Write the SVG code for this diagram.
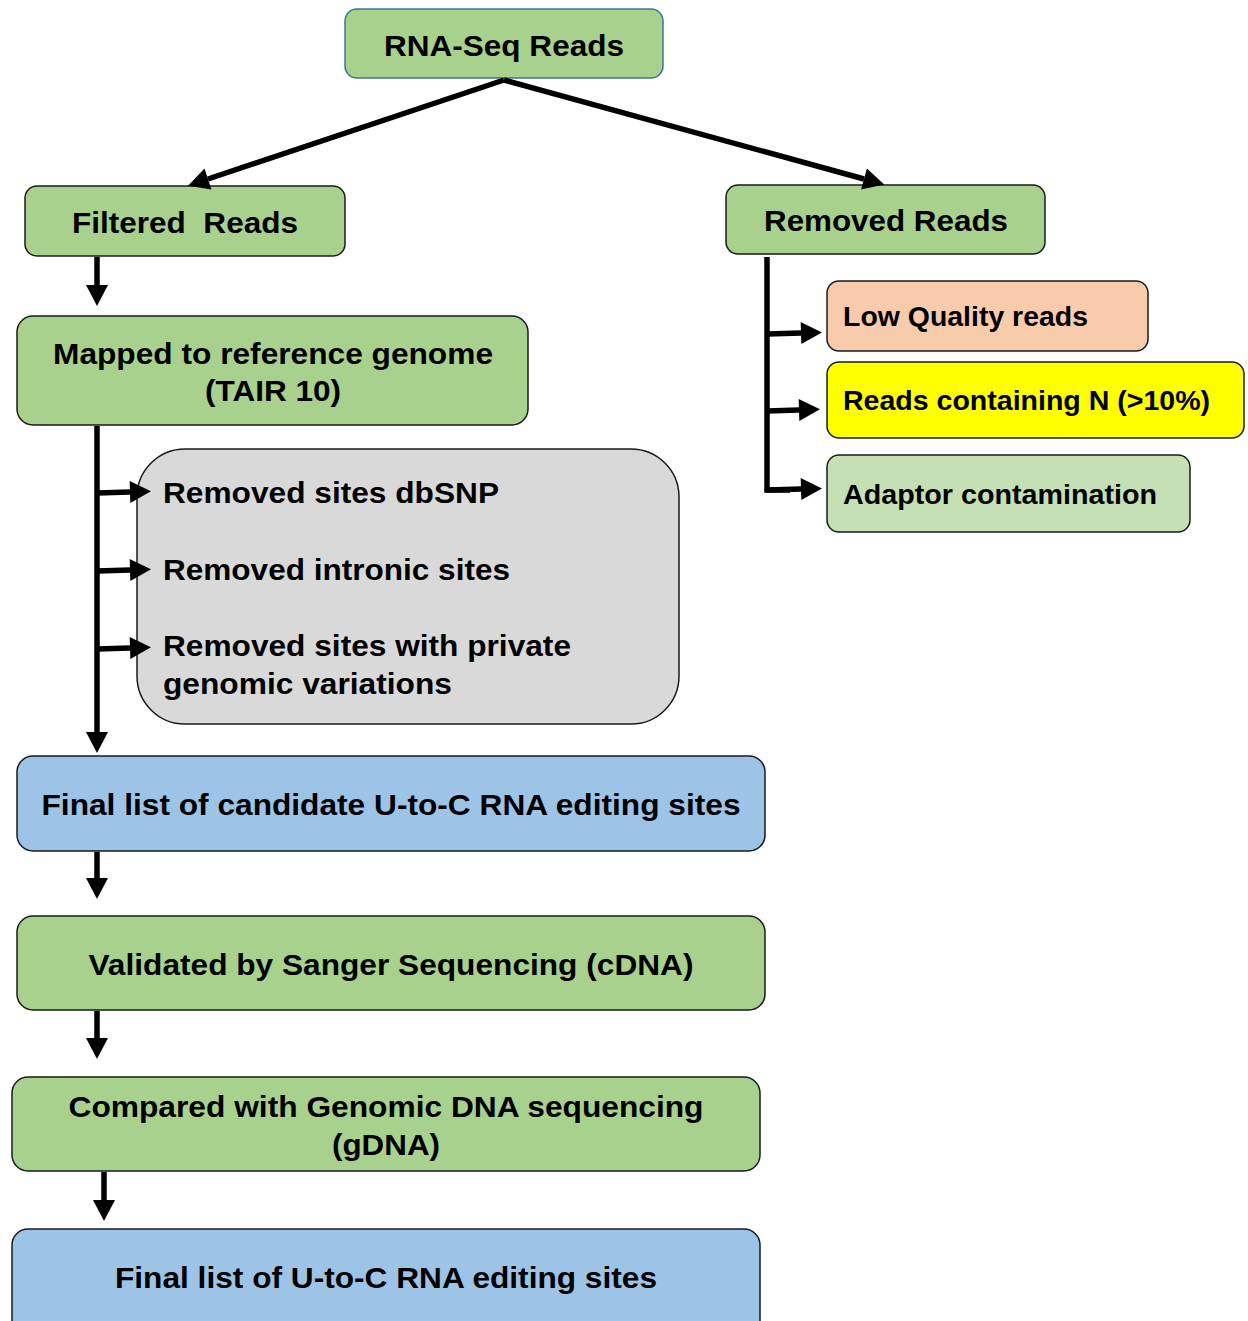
<svg xmlns="http://www.w3.org/2000/svg" width="1248" height="1321" viewBox="0 0 1248 1321">
<defs>
<style>
.box{stroke:#1a1a1a;stroke-width:1.5}
.g{fill:#A9D18E}
.b{fill:#9DC3E6}
.t{font-family:"Liberation Sans",Arial,sans-serif;font-weight:bold;font-size:30px;fill:#000}
.s{font-size:28px}
.c{text-anchor:middle}
.ln{stroke:#000;stroke-width:5.5;fill:none}
</style>
<marker id="ah" markerUnits="userSpaceOnUse" markerWidth="22" markerHeight="22" refX="0" refY="11" orient="auto" overflow="visible">
<path d="M0,0 L21,11 L0,22 Z" fill="#000"/>
</marker>
</defs>
<rect width="1248" height="1321" fill="#fff"/>
<g id="rnaseq">
<rect x="345" y="9" width="318" height="69" rx="12" fill="#A9D18E" stroke="#41719C" stroke-width="1.5"/>
<text class="t c" x="504" y="56" textLength="240" lengthAdjust="spacingAndGlyphs">RNA-Seq Reads</text>
</g>
<g id="filtered">
<rect class="box g" x="25" y="186" width="320" height="70" rx="12"/>
<text class="t c" x="185" y="233" textLength="226" lengthAdjust="spacingAndGlyphs" xml:space="preserve">Filtered  Reads</text>
</g>
<g id="removed">
<rect class="box g" x="726" y="185" width="319" height="69" rx="12"/>
<text class="t c" x="886" y="231" textLength="244" lengthAdjust="spacingAndGlyphs">Removed Reads</text>
</g>
<g id="mapped">
<rect class="box g" x="17" y="316" width="511" height="109" rx="16"/>
<text class="t c" x="273" y="364" textLength="440" lengthAdjust="spacingAndGlyphs">Mapped to reference genome</text>
<text class="t c" x="273" y="401" textLength="136" lengthAdjust="spacingAndGlyphs">(TAIR 10)</text>
</g>
<g id="filters">
<rect x="137" y="449" width="542" height="275" rx="48" fill="#D9D9D9" stroke="#1a1a1a" stroke-width="1.5"/>
<text class="t" x="163" y="503" textLength="336" lengthAdjust="spacingAndGlyphs">Removed sites dbSNP</text>
<text class="t" x="163" y="580" textLength="347" lengthAdjust="spacingAndGlyphs">Removed intronic sites</text>
<text class="t" x="163" y="656" textLength="408" lengthAdjust="spacingAndGlyphs">Removed sites with private</text>
<text class="t" x="163" y="694" textLength="289" lengthAdjust="spacingAndGlyphs">genomic variations</text>
</g>
<g id="lowquality">
<rect class="box" x="827" y="281" width="321" height="70" rx="12" fill="#F8CBAD"/>
<text class="t s" x="843" y="326" textLength="245" lengthAdjust="spacingAndGlyphs">Low Quality reads</text>
</g>
<g id="containingN">
<rect class="box" x="827" y="362" width="417" height="76" rx="12" fill="#FFFF00"/>
<text class="t s" x="843" y="410" textLength="367" lengthAdjust="spacingAndGlyphs">Reads containing N (&gt;10%)</text>
</g>
<g id="adaptor">
<rect class="box" x="827" y="455" width="363" height="77" rx="12" fill="#C5E0B4"/>
<text class="t s" x="843" y="504" textLength="314" lengthAdjust="spacingAndGlyphs">Adaptor contamination</text>
</g>
<g id="candidate">
<rect class="box b" x="17" y="756" width="748" height="95" rx="16"/>
<text class="t c" x="391" y="815" textLength="699" lengthAdjust="spacingAndGlyphs">Final list of candidate U-to-C RNA editing sites</text>
</g>
<g id="validated">
<rect class="box g" x="17" y="916" width="748" height="94" rx="16"/>
<text class="t c" x="391" y="975" textLength="605" lengthAdjust="spacingAndGlyphs">Validated by Sanger Sequencing (cDNA)</text>
</g>
<g id="compared">
<rect class="box g" x="12" y="1077" width="748" height="94" rx="16"/>
<text class="t c" x="386" y="1117" textLength="635" lengthAdjust="spacingAndGlyphs">Compared with Genomic DNA sequencing</text>
<text class="t c" x="386" y="1155" textLength="108" lengthAdjust="spacingAndGlyphs">(gDNA)</text>
</g>
<g id="final">
<rect class="box b" x="12" y="1229" width="748" height="110" rx="16"/>
<text class="t c" x="386" y="1288" textLength="542" lengthAdjust="spacingAndGlyphs">Final list of U-to-C RNA editing sites</text>
</g>
<g id="connectors">
<line class="ln" x1="504" y1="80" x2="208" y2="179" marker-end="url(#ah)"/>
<line class="ln" x1="504" y1="80" x2="864" y2="179" marker-end="url(#ah)"/>
<line class="ln" x1="97" y1="257" x2="97" y2="285" marker-end="url(#ah)"/>
<line class="ln" x1="97" y1="426" x2="97" y2="732" marker-end="url(#ah)"/>
<line class="ln" x1="97" y1="493" x2="130" y2="492" marker-end="url(#ah)"/>
<line class="ln" x1="97" y1="571" x2="130" y2="570" marker-end="url(#ah)"/>
<line class="ln" x1="97" y1="649" x2="130" y2="648" marker-end="url(#ah)"/>
<polyline class="ln" points="767,257 767,490 790,490"/>
<line class="ln" x1="767" y1="334" x2="801" y2="333" marker-end="url(#ah)"/>
<line class="ln" x1="767" y1="411" x2="799" y2="410" marker-end="url(#ah)"/>
<line class="ln" x1="767" y1="490" x2="801" y2="489" marker-end="url(#ah)"/>
<line class="ln" x1="97" y1="852" x2="97" y2="878" marker-end="url(#ah)"/>
<line class="ln" x1="97" y1="1011" x2="97" y2="1038" marker-end="url(#ah)"/>
<line class="ln" x1="104" y1="1172" x2="104" y2="1200" marker-end="url(#ah)"/>
</g>
</svg>
